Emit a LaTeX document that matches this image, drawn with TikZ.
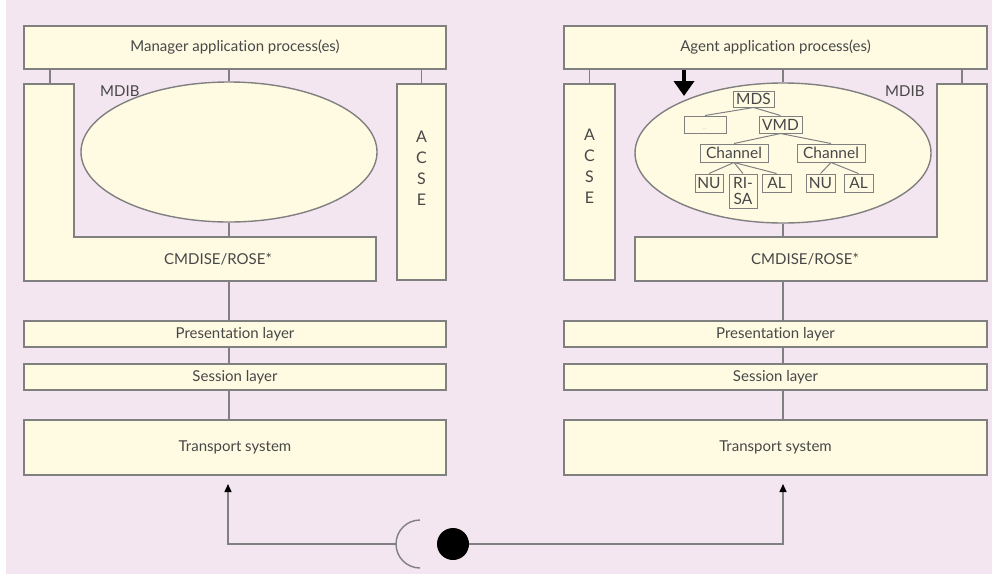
\documentclass[tikz,border=0pt]{standalone}
\usepackage{fontspec}
\setmainfont{Lato}[Ligatures=NoCommon]
\usetikzlibrary{shapes.geometric,arrows.meta}
\definecolor{bgpink}{HTML}{F3E6F0}
\definecolor{cream}{HTML}{FFFBE3}
\definecolor{edge}{HTML}{808080}
\definecolor{ink}{HTML}{474747}
\tikzset{
  box/.style={draw=edge, fill=cream, line width=1.4pt, inner sep=0pt,
    font=\fontsize{15}{17}\selectfont, text=ink},
  sz/.style 2 args={minimum width=#1, minimum height=#2},
  lshape/.style={draw=edge, fill=cream, line width=1.4pt, line join=miter},
  txt/.style={inner sep=0pt, font=\fontsize{15}{17}\selectfont, text=ink},
  acsetxt/.style={inner sep=0pt, font=\fontsize{16}{21}\selectfont, text=ink, align=center},
  mdb/.style={draw=edge, fill=cream, line width=1.4pt, ellipse, inner sep=0pt,
    minimum width=296pt, minimum height=140pt},
  conn/.style={draw=edge, line width=1.4pt},
  tip/.style={-{Triangle[length=8pt,width=7pt,color=black]}},
  tbox/.style={draw=edge, fill=cream, line width=1pt, inner sep=0pt,
    font=\fontsize{15.5}{15.5}\selectfont, text=ink, align=center},
  tline/.style={draw=edge, line width=1pt},
  bigarrow/.style={line width=4.5pt, black, -{Triangle[length=15pt,width=20pt]}},
}
\begin{document}
\begin{tikzpicture}[x=1pt,y=-1pt]
% page and background
\fill[white] (0,0) rectangle (992,574);
\fill[bgpink] (6,0) rectangle (992,574);
\useasboundingbox (0,0) rectangle (992,574);

% ---------------- manager stack ----------------
\node[box, sz={422pt}{43pt}] (mgr) at (235,47.5) {Manager application process(es)};
\node[box, sz={49pt}{196pt}] (lacse) at (421.5,182) {};
\node[acsetxt] (lacsetxt) at ([yshift=14pt]lacse.center) {A\\C\\S\\E};
\draw[lshape] (24,84) -- (74,84) -- (74,237) -- (376,237) -- (376,281) -- (24,281) -- cycle;
\node[txt] (lcmd) at (218,259) {CMDISE/ROSE*};
\coordinate (lLtop) at (50,84);
\coordinate (lLstep) at (228,237);
\coordinate (lLbot) at (228,281);
\node[mdb] (lell) at (229,152) {};
\node[txt, anchor=west] (lmdib) at (100,91) {MDIB};
\node[box, sz={422pt}{26pt}] (lpres) at (235,334) {Presentation layer};
\node[box, sz={422pt}{26pt}] (lsess) at (235,377) {Session layer};
\node[box, sz={422pt}{55pt}] (ltrans) at (235,447.5) {Transport system};

\draw[conn] (mgr.south -| lLtop) -- (lLtop);
\draw[conn] (mgr.south -| lacse) -- (lacse.north);
\draw[conn] (mgr.south -| lell) -- (lell.north);
\draw[conn] (lell.south) -- (lell.south |- lLstep);
\draw[conn] (lell.south |- lLbot) -- (lell.south |- lpres.north);
\draw[conn] (lell.south |- lpres.south) -- (lell.south |- lsess.north);
\draw[conn] (lell.south |- lsess.south) -- (lell.south |- ltrans.north);

% ---------------- agent stack ----------------
\node[box, sz={423pt}{43pt}] (agt) at (775.5,47.5) {Agent application process(es)};
\node[box, sz={51pt}{196pt}] (racse) at (589.5,182) {};
\node[acsetxt] (racsetxt) at ([yshift=16pt]racse.center) {A\\C\\S\\E};
\draw[lshape] (937,84) -- (987,84) -- (987,281) -- (635,281) -- (635,237) -- (937,237) -- cycle;
\node[txt] (rcmd) at (805,259) {CMDISE/ROSE*};
\coordinate (rLtop) at (962,84);
\coordinate (rLstep) at (783,237);
\coordinate (rLbot) at (783,281);
\node[mdb] (rell) at (783,153) {};
\node[txt, anchor=west] (rmdib) at (885,91) {MDIB};
\node[box, sz={423pt}{26pt}] (rpres) at (775.5,334) {Presentation layer};
\node[box, sz={423pt}{26pt}] (rsess) at (775.5,377) {Session layer};
\node[box, sz={423pt}{55pt}] (rtrans) at (775.5,447.5) {Transport system};

\draw[conn] (agt.south -| rLtop) -- (rLtop);
\draw[conn] (agt.south -| racse) -- (racse.north);
\draw[conn] (agt.south -| rell) -- (rell.north);
\draw[conn] (rell.south) -- (rell.south |- rLstep);
\draw[conn] (rell.south |- rLbot) -- (rell.south |- rpres.north);
\draw[conn] (rell.south |- rpres.south) -- (rell.south |- rsess.north);
\draw[conn] (rell.south |- rsess.south) -- (rell.south |- rtrans.north);

% containment tree inside the agent MDIB
\node[tbox, sz={41pt}{16pt}] (mds) at (753.5,99) {MDS};
\node[tbox, sz={42pt}{17pt}] (blank) at (705,124.5) {};
\node[inner sep=0pt, font=\fontsize{5}{5}\selectfont, text=edge!60] (blankdots) at ([yshift=-5pt]blank.center) {...};
\node[tbox, sz={43pt}{17pt}] (vmd) at (780.5,124.5) {VMD};
\node[tbox, sz={68pt}{18pt}] (ch1) at (734,153) {Channel};
\node[tbox, sz={68pt}{18pt}] (ch2) at (831,153) {Channel};
\node[tbox, sz={28pt}{18pt}] (nu1) at (709,183) {NU};
\node[tbox, sz={28pt}{34pt}, font=\fontsize{15.5}{15.5}\selectfont] (risa) at (743,191) {RI-\\SA};
\node[tbox, sz={29pt}{18pt}] (al1) at (776.5,183) {AL};
\node[tbox, sz={29pt}{18pt}] (nu2) at (820.5,183) {NU};
\node[tbox, sz={29pt}{18pt}] (al2) at (858.5,183) {AL};
\draw[tline] (mds.south) -- (blank.north);
\draw[tline] (mds.south) -- (vmd.north);
\draw[tline] (vmd.south) -- (ch1.north);
\draw[tline] (vmd.south) -- (ch2.north);
\draw[tline] (ch1.south) -- (nu1.north);
\draw[tline] (ch1.south) -- (risa.north);
\draw[tline] (ch1.south) -- (al1.north);
\draw[tline] (ch2.south) -- (nu2.north);
\draw[tline] (ch2.south) -- (al2.north);

% access arrow into the MDIB
\coordinate (accesstip) at (684,96);
\draw[bigarrow] (agt.south -| accesstip) -- (accesstip);

% ---------------- socket and ball link ----------------
\coordinate (ltip) at (228,484);
\coordinate (lcorner) at (228,544);
\coordinate (socket) at (420,544);
\coordinate (socketleft) at (396,544);
\node[circle, fill=black, minimum size=32pt, inner sep=0pt] (ball) at (453,544) {};
\coordinate (rcorner) at (783,544);
\coordinate (rtip) at (783,484);
\draw[conn] ([yshift=24pt]socket) arc[start angle=90, end angle=270, radius=24pt];
\draw[conn, tip] (socketleft) -- (lcorner) -- (ltip);
\draw[conn, tip] (ball.east) -- (rcorner) -- (rtip);
\end{tikzpicture}
\end{document}
